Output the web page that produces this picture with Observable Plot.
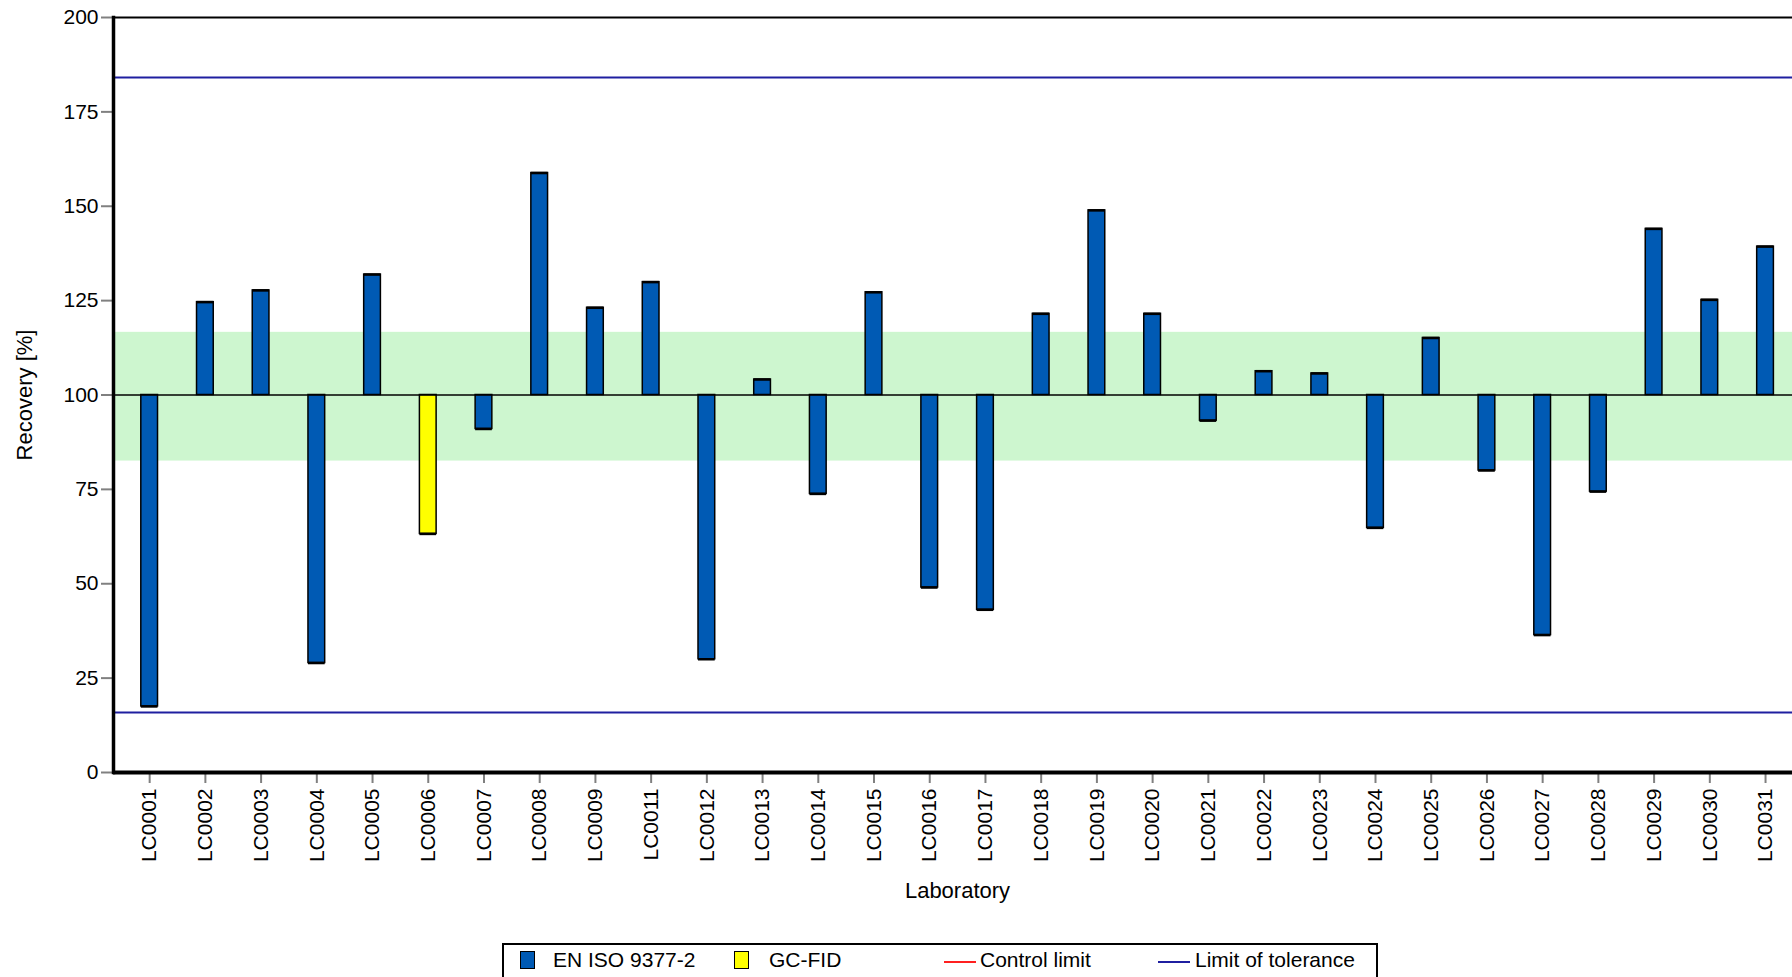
<!DOCTYPE html>
<html>
<head>
<meta charset="utf-8">
<script src="https://cdn.jsdelivr.net/npm/d3@7"></script>
<script src="https://cdn.jsdelivr.net/npm/@observablehq/plot@0.6"></script>
<style>
  html, body { margin: 0; padding: 0; background: #fff; overflow: hidden; }
  #wrap { position: relative; width: 1792px; height: 977px; font-family: "Liberation Sans", Arial, sans-serif; }
  #legend { position: absolute; left: 502px; top: 943px; width: 876px; height: 60px; border: 2px solid #000; box-sizing: border-box; background: #fff; }
  #legend .sw { position: absolute; top: 6px; width: 13px; height: 16px; border: 1.5px solid #000; }
  #legend .ln { position: absolute; top: 16px; width: 32px; height: 2px; }
  #legend .tx { position: absolute; top: 4px; font-size: 21px; line-height: 21px; color: #000; white-space: nowrap; }
</style>
</head>
<body>
<div id="wrap"><div id="chart"></div><div id="legend"></div></div>
<script>
// ---- data ----
const labs = ["LC0001","LC0002","LC0003","LC0004","LC0005","LC0006","LC0007","LC0008","LC0009","LC0011",
              "LC0012","LC0013","LC0014","LC0015","LC0016","LC0017","LC0018","LC0019","LC0020","LC0021",
              "LC0022","LC0023","LC0024","LC0025","LC0026","LC0027","LC0028","LC0029","LC0030","LC0031"];
const recovery = [17.5,124.6,127.7,29.0,131.9,63.2,91.0,158.8,123.1,129.9,
                  30.0,104.1,73.8,127.2,49.0,43.1,121.5,148.9,121.5,93.2,
                  106.3,105.7,64.8,115.1,80.0,36.4,74.4,144.0,125.2,139.3];
const methods = ["EN ISO 9377-2","EN ISO 9377-2","EN ISO 9377-2","EN ISO 9377-2","EN ISO 9377-2","GC-FID","EN ISO 9377-2","EN ISO 9377-2","EN ISO 9377-2","EN ISO 9377-2",
                 "EN ISO 9377-2","EN ISO 9377-2","EN ISO 9377-2","EN ISO 9377-2","EN ISO 9377-2","EN ISO 9377-2","EN ISO 9377-2","EN ISO 9377-2","EN ISO 9377-2","EN ISO 9377-2",
                 "EN ISO 9377-2","EN ISO 9377-2","EN ISO 9377-2","EN ISO 9377-2","EN ISO 9377-2","EN ISO 9377-2","EN ISO 9377-2","EN ISO 9377-2","EN ISO 9377-2","EN ISO 9377-2"];
const methodNames = ["EN ISO 9377-2", "GC-FID"];
const methodColors = ["#005ab4", "#ffff00"];
const refValue = 100;
const bandLow = 82.5, bandHigh = 116.6;          // green band
const toleranceLimits = [15.9, 184.1];           // limit of tolerance
const yTicks = [0, 25, 50, 75, 100, 125, 150, 175, 200];
const legendLines = [{label: "Control limit", color: "#ff2020"}, {label: "Limit of tolerance", color: "#1f1fa0"}];

const data = labs.map((lab, i) => ({lab, value: recovery[i], method: methods[i]}));
const font = "Liberation Sans, Arial, sans-serif";

const chart = Plot.plot({
  width: 1792,
  height: 925,
  marginTop: 17,
  marginBottom: 153,
  marginLeft: 113,
  marginRight: -9,
  style: {fontFamily: font, background: "white", overflow: "hidden"},
  x: {domain: labs, padding: 0.7, range: [101.8, 1812.4], round: false},
  y: {domain: [0, 200]},
  color: {domain: methodNames, range: methodColors},
  marks: [
    Plot.rect([{}], {y1: bandLow, y2: bandHigh, fill: "#cdf6cf"}),
    Plot.ruleY(toleranceLimits, {stroke: "#1f1fa0", strokeWidth: 2}),
    Plot.barY(data, {x: "lab", y1: refValue, y2: "value", fill: "method", stroke: "black", strokeWidth: 1.5}),
    Plot.tickY(data, {x: "lab", y: "value", stroke: "black", strokeWidth: 2.5}),
    Plot.ruleY([refValue], {stroke: "black", strokeWidth: 1.5}),
    Plot.axisY({ticks: yTicks, tickSize: 12, tickPadding: 3, fontSize: 21, stroke: "#808080", strokeWidth: 2, fill: "black", label: null}),
    Plot.axisX({tickSize: 11, tickPadding: 5, tickRotate: -90, fontSize: 21, stroke: "#808080", strokeWidth: 2, fill: "black", label: null}),
    Plot.ruleY([200], {stroke: "black", strokeWidth: 2}),
    Plot.ruleY([0], {stroke: "black", strokeWidth: 4}),
    Plot.frame({anchor: "left", stroke: "black", strokeWidth: 3.5}),
    Plot.text(["Recovery [%]"], {frameAnchor: "left", dx: -89, rotate: -90, textAnchor: "middle", fontSize: 22, fill: "black"}),
    Plot.text(["Laboratory"], {frameAnchor: "bottom", dy: 125, textAnchor: "middle", fontSize: 22, fill: "black"})
  ]
});
document.getElementById("chart").appendChild(chart);

// legend
const legend = document.getElementById("legend");
const items = [
  {type: "sw", color: methodColors[0], left: 16, text: methodNames[0], tleft: 49},
  {type: "sw", color: methodColors[1], left: 230, text: methodNames[1], tleft: 265},
  {type: "ln", color: legendLines[0].color, left: 440, text: legendLines[0].label, tleft: 476},
  {type: "ln", color: legendLines[1].color, left: 654, text: legendLines[1].label, tleft: 691}
];
for (const it of items) {
  const s = document.createElement("div");
  s.className = it.type;
  s.style.left = it.left + "px";
  s.style.background = it.color;
  legend.appendChild(s);
  const t = document.createElement("div");
  t.className = "tx";
  t.style.left = it.tleft + "px";
  t.textContent = it.text;
  legend.appendChild(t);
}
</script>
</body>
</html>
